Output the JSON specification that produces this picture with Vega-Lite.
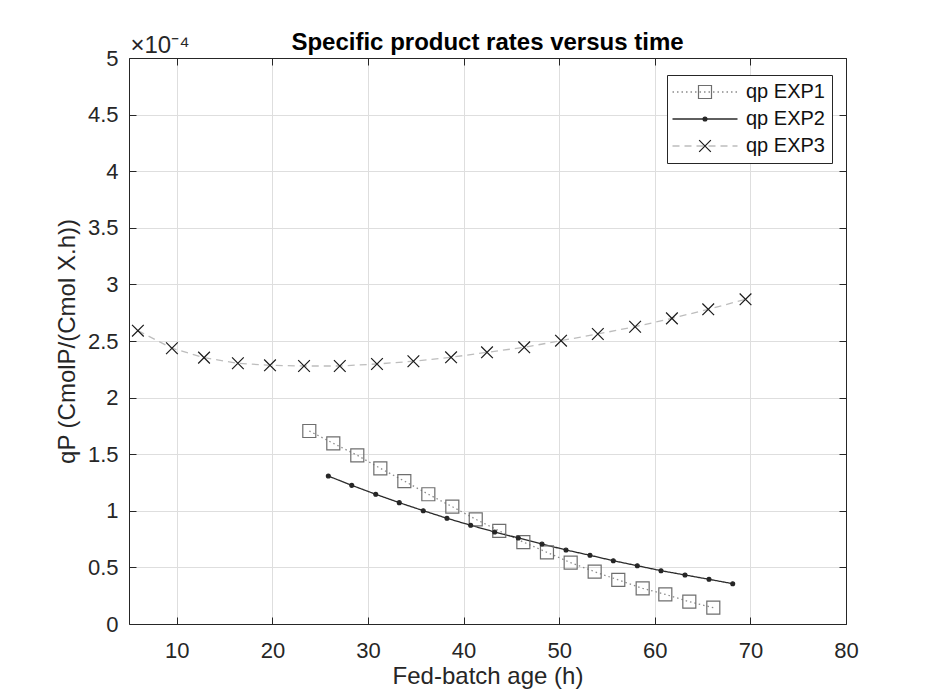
{
  "$schema": "https://vega.github.io/schema/vega-lite/v6.json",
  "width": 717,
  "height": 566,
  "autosize": {"type": "none"},
  "padding": {"left": 129, "top": 58, "right": 82, "bottom": 72},
  "background": "white",
  "config": {
    "font": "Liberation Sans",
    "view": {"stroke": null}
  },
  "title": {
    "text": "Specific product rates versus time",
    "fontSize": 24,
    "fontWeight": "bold",
    "color": "#000000",
    "anchor": "middle",
    "frame": "group",
    "baseline": "alphabetic",
    "offset": -41
  },
  "data": {
    "values": [
      {"series": "qp EXP1", "age": 23.86, "qp": 0.0001705},
      {"series": "qp EXP1", "age": 26.37, "qp": 0.0001596},
      {"series": "qp EXP1", "age": 28.88, "qp": 0.0001490},
      {"series": "qp EXP1", "age": 31.29, "qp": 0.0001375},
      {"series": "qp EXP1", "age": 33.80, "qp": 0.0001263},
      {"series": "qp EXP1", "age": 36.31, "qp": 0.0001146},
      {"series": "qp EXP1", "age": 38.82, "qp": 0.0001036},
      {"series": "qp EXP1", "age": 41.27, "qp": 0.0000925},
      {"series": "qp EXP1", "age": 43.73, "qp": 0.0000822},
      {"series": "qp EXP1", "age": 46.25, "qp": 0.0000724},
      {"series": "qp EXP1", "age": 48.72, "qp": 0.0000633},
      {"series": "qp EXP1", "age": 51.20, "qp": 0.0000542},
      {"series": "qp EXP1", "age": 53.71, "qp": 0.0000462},
      {"series": "qp EXP1", "age": 56.18, "qp": 0.0000389},
      {"series": "qp EXP1", "age": 58.73, "qp": 0.0000315},
      {"series": "qp EXP1", "age": 61.10, "qp": 0.0000262},
      {"series": "qp EXP1", "age": 63.61, "qp": 0.0000197},
      {"series": "qp EXP1", "age": 66.12, "qp": 0.0000144},
      {"series": "qp EXP2", "age": 25.85, "qp": 0.0001307},
      {"series": "qp EXP2", "age": 28.30, "qp": 0.0001225},
      {"series": "qp EXP2", "age": 30.81, "qp": 0.0001146},
      {"series": "qp EXP2", "age": 33.27, "qp": 0.0001072},
      {"series": "qp EXP2", "age": 35.78, "qp": 0.0001001},
      {"series": "qp EXP2", "age": 38.26, "qp": 0.0000934},
      {"series": "qp EXP2", "age": 40.74, "qp": 0.0000872},
      {"series": "qp EXP2", "age": 43.25, "qp": 0.0000813},
      {"series": "qp EXP2", "age": 45.72, "qp": 0.0000760},
      {"series": "qp EXP2", "age": 48.20, "qp": 0.0000707},
      {"series": "qp EXP2", "age": 50.71, "qp": 0.0000654},
      {"series": "qp EXP2", "age": 53.22, "qp": 0.0000607},
      {"series": "qp EXP2", "age": 55.66, "qp": 0.0000559},
      {"series": "qp EXP2", "age": 58.17, "qp": 0.0000515},
      {"series": "qp EXP2", "age": 60.65, "qp": 0.0000471},
      {"series": "qp EXP2", "age": 63.16, "qp": 0.0000433},
      {"series": "qp EXP2", "age": 65.67, "qp": 0.0000395},
      {"series": "qp EXP2", "age": 68.15, "qp": 0.0000356},
      {"series": "qp EXP3", "age": 5.93, "qp": 0.0002591},
      {"series": "qp EXP3", "age": 9.49, "qp": 0.0002436},
      {"series": "qp EXP3", "age": 12.85, "qp": 0.0002353},
      {"series": "qp EXP3", "age": 16.39, "qp": 0.0002303},
      {"series": "qp EXP3", "age": 19.75, "qp": 0.0002285},
      {"series": "qp EXP3", "age": 23.31, "qp": 0.0002279},
      {"series": "qp EXP3", "age": 27.05, "qp": 0.0002279},
      {"series": "qp EXP3", "age": 30.94, "qp": 0.0002297},
      {"series": "qp EXP3", "age": 34.75, "qp": 0.0002321},
      {"series": "qp EXP3", "age": 38.69, "qp": 0.0002356},
      {"series": "qp EXP3", "age": 42.45, "qp": 0.0002400},
      {"series": "qp EXP3", "age": 46.34, "qp": 0.0002444},
      {"series": "qp EXP3", "age": 50.19, "qp": 0.0002503},
      {"series": "qp EXP3", "age": 54.04, "qp": 0.0002562},
      {"series": "qp EXP3", "age": 57.94, "qp": 0.0002626},
      {"series": "qp EXP3", "age": 61.79, "qp": 0.0002700},
      {"series": "qp EXP3", "age": 65.59, "qp": 0.0002780},
      {"series": "qp EXP3", "age": 69.49, "qp": 0.0002868}
    ]
  },
  "layer": [
    {
      "mark": {"type": "line", "strokeWidth": 1.3},
      "encoding": {
        "x": {
          "field": "age", "type": "quantitative",
          "scale": {"domain": [5, 80], "nice": false, "zero": false},
          "axis": {
            "values": [10, 20, 30, 40, 50, 60, 70, 80],
            "format": "d",
            "title": "Fed-batch age (h)",
            "titleFontSize": 24, "titleFontWeight": "normal", "titleColor": "#262626",
            "titlePadding": 3,
            "labelFontSize": 22, "labelColor": "#262626", "labelFlush": false, "labelOverlap": false,
            "tickSize": -7, "labelPadding": 23,
            "domainColor": "#262626", "tickColor": "#262626",
            "grid": true, "gridColor": "#dedede"
          }
        },
        "y": {
          "field": "qp", "type": "quantitative",
          "scale": {"domain": [0, 0.0005], "nice": false},
          "axis": {
            "values": [0, 0.00005, 0.0001, 0.00015, 0.0002, 0.00025, 0.0003, 0.00035, 0.0004, 0.00045, 0.0005],
            "labelExpr": "format(datum.value*10000, '~g')",
            "title": "qP (CmolP/(Cmol X.h))",
            "titleFontSize": 24, "titleFontWeight": "normal", "titleColor": "#262626",
            "titlePadding": 8,
            "labelFontSize": 22, "labelColor": "#262626", "labelFlush": false, "labelOverlap": false,
            "tickSize": -7, "labelPadding": 18,
            "domainColor": "#262626", "tickColor": "#262626",
            "grid": true, "gridColor": "#dedede"
          }
        },
        "color": {
          "field": "series", "type": "nominal",
          "scale": {"range": ["#8c8c8c", "#2b2b2b", "#bdbdbd"]},
          "legend": {
            "title": null, "orient": "none", "legendX": 538, "legendY": 17,
            "symbolType": "M-5,0H5", "symbolSize": 169, "symbolStrokeWidth": 1.3,
            "symbolOffset": 21, "labelOffset": 31,
            "labelFontSize": 20, "labelColor": "#111111",
            "padding": 7, "rowPadding": 7,
            "strokeColor": "#262626", "fillColor": "white"
          }
        },
        "strokeDash": {
          "field": "series", "type": "nominal",
          "scale": {"range": [[1.5, 3], [1, 0], [7, 5]]},
          "legend": {
            "title": null, "orient": "none", "legendX": 538, "legendY": 17,
            "symbolType": "M-5,0H5", "symbolSize": 169, "symbolStrokeWidth": 1.3,
            "symbolOffset": 21, "labelOffset": 31,
            "labelFontSize": 20, "labelColor": "#111111",
            "padding": 7, "rowPadding": 7,
            "strokeColor": "#262626", "fillColor": "white"
          }
        }
      }
    },
    {
      "mark": {"type": "point", "filled": true, "size": 169, "strokeWidth": 1.2, "opacity": 1},
      "encoding": {
        "x": {
          "field": "age", "type": "quantitative",
          "axis": {
            "orient": "top",
            "values": [10, 20, 30, 40, 50, 60, 70, 80],
            "labels": false, "grid": false,
            "tickSize": -7,
            "domainColor": "#262626", "tickColor": "#262626",
            "title": "×10⁻⁴",
            "titleFontSize": 24, "titleFontWeight": "normal", "titleColor": "#262626",
            "titleAnchor": "start", "titleAlign": "left", "titleBaseline": "alphabetic",
            "titleX": 1, "titleY": -6
          }
        },
        "y": {
          "field": "qp", "type": "quantitative",
          "axis": {
            "orient": "right",
            "values": [0, 0.00005, 0.0001, 0.00015, 0.0002, 0.00025, 0.0003, 0.00035, 0.0004, 0.00045, 0.0005],
            "labels": false, "grid": false, "title": null,
            "tickSize": -7,
            "domainColor": "#262626", "tickColor": "#262626"
          }
        },
        "shape": {
          "field": "series", "type": "nominal",
          "scale": {
            "domain": ["qp EXP1", "qp EXP2", "qp EXP3"],
            "range": ["square", "M0.3,0A0.3,0.3,0,1,1,-0.3,0A0.3,0.3,0,1,1,0.3,0Z", "M-0.9,-0.9L0.9,0.9M-0.9,0.9L0.9,-0.9"]
          },
          "legend": {
            "title": null, "orient": "none", "legendX": 538, "legendY": 17,
            "symbolSize": 169, "symbolStrokeWidth": 1.2,
            "symbolOffset": 21, "labelOffset": 31,
            "labelFontSize": 20, "labelOpacity": 0,
            "padding": 7, "rowPadding": 7, "zindex": 1
          }
        },
        "fill": {
          "field": "series", "type": "nominal",
          "scale": {"domain": ["qp EXP1", "qp EXP2", "qp EXP3"], "range": ["transparent", "#262626", "transparent"]},
          "legend": {
            "title": null, "orient": "none", "legendX": 538, "legendY": 17,
            "symbolSize": 169, "symbolStrokeWidth": 1.2,
            "symbolOffset": 21, "labelOffset": 31,
            "labelFontSize": 20, "labelOpacity": 0,
            "padding": 7, "rowPadding": 7, "zindex": 1
          }
        },
        "stroke": {
          "field": "series", "type": "nominal",
          "scale": {"domain": ["qp EXP1", "qp EXP2", "qp EXP3"], "range": ["#6e6e6e", "#262626", "#1a1a1a"]},
          "legend": {
            "title": null, "orient": "none", "legendX": 538, "legendY": 17,
            "symbolSize": 169, "symbolStrokeWidth": 1.2,
            "symbolOffset": 21, "labelOffset": 31,
            "labelFontSize": 20, "labelOpacity": 0,
            "padding": 7, "rowPadding": 7, "zindex": 1
          }
        }
      }
    }
  ],
  "resolve": {"axis": {"x": "independent", "y": "independent"}}
}
